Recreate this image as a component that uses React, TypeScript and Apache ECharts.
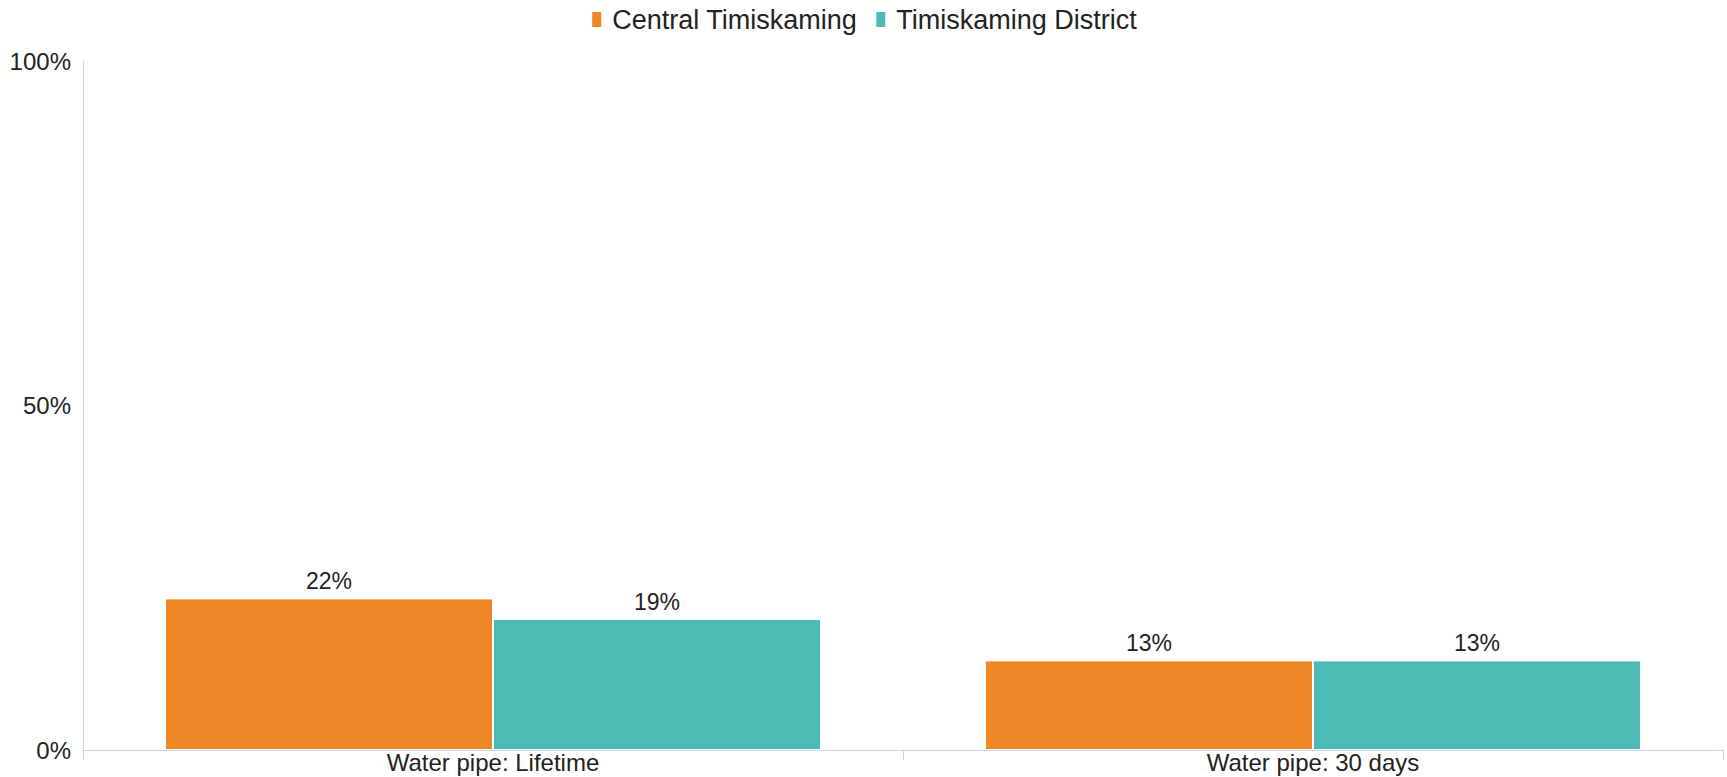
import React, { useEffect, useRef } from "react";
import * as echarts from "echarts";

const categories = ["Water pipe: Lifetime", "Water pipe: 30 days"];
const seriesNames = ["Central Timiskaming", "Timiskaming District"];
const centralValues = [22, 13];
const districtValues = [19, 13];
const yTicks = [0, 50, 100];
const colors = ["#F08726", "#4CBBB6"];

const FONT = "'Liberation Sans', Arial, Helvetica, sans-serif";

export default function App() {
  const ref = useRef<HTMLDivElement>(null);
  useEffect(() => {
    document.body.style.margin = "0";
    if (!ref.current) return;
    const chart = echarts.init(ref.current, undefined, { renderer: "svg" });
    const values = [centralValues, districtValues];
    chart.setOption({
      animation: false,
      textStyle: { fontFamily: FONT },
      legend: {
        left: "center",
        top: 1,
        itemWidth: 11,
        itemHeight: 17,
        itemGap: 17,
        icon: "rect",
        textStyle: { fontSize: 27, color: "#222", fontFamily: FONT, padding: [0, 0, 0, 5] },
        data: seriesNames,
      },
      grid: { left: 83, right: 4, top: 61, bottom: 27, containLabel: false },
      xAxis: {
        type: "category",
        data: categories,
        axisLine: { show: true, lineStyle: { color: "#ccd6eb", width: 1 } },
        axisTick: { show: true, length: 10, lineStyle: { color: "#ccd6eb" } },
        axisLabel: { fontSize: 24, color: "#222", margin: 0, fontFamily: FONT },
        splitLine: { show: false },
      },
      yAxis: {
        type: "value",
        min: yTicks[0],
        max: yTicks[yTicks.length - 1],
        interval: yTicks[1] - yTicks[0],
        axisLine: { show: true, lineStyle: { color: "#ccd6eb", width: 1 } },
        axisTick: { show: false },
        splitLine: { show: false },
        axisLabel: { fontSize: 24, color: "#222", margin: 12, formatter: "{value}%", fontFamily: FONT },
      },
      series: seriesNames.map((name, i) => ({
        name,
        type: "bar",
        data: values[i],
        barGap: "0%",
        barCategoryGap: "20%",
        itemStyle: { color: colors[i], borderColor: "#ffffff", borderWidth: 1 },
        label: {
          show: true,
          position: "top",
          distance: 6,
          formatter: "{c}%",
          fontSize: 23,
          color: "#222",
          fontFamily: FONT,
        },
      })),
    });
    return () => chart.dispose();
  }, []);
  return <div ref={ref} style={{ width: "1727px", height: "777px" }} />;
}
